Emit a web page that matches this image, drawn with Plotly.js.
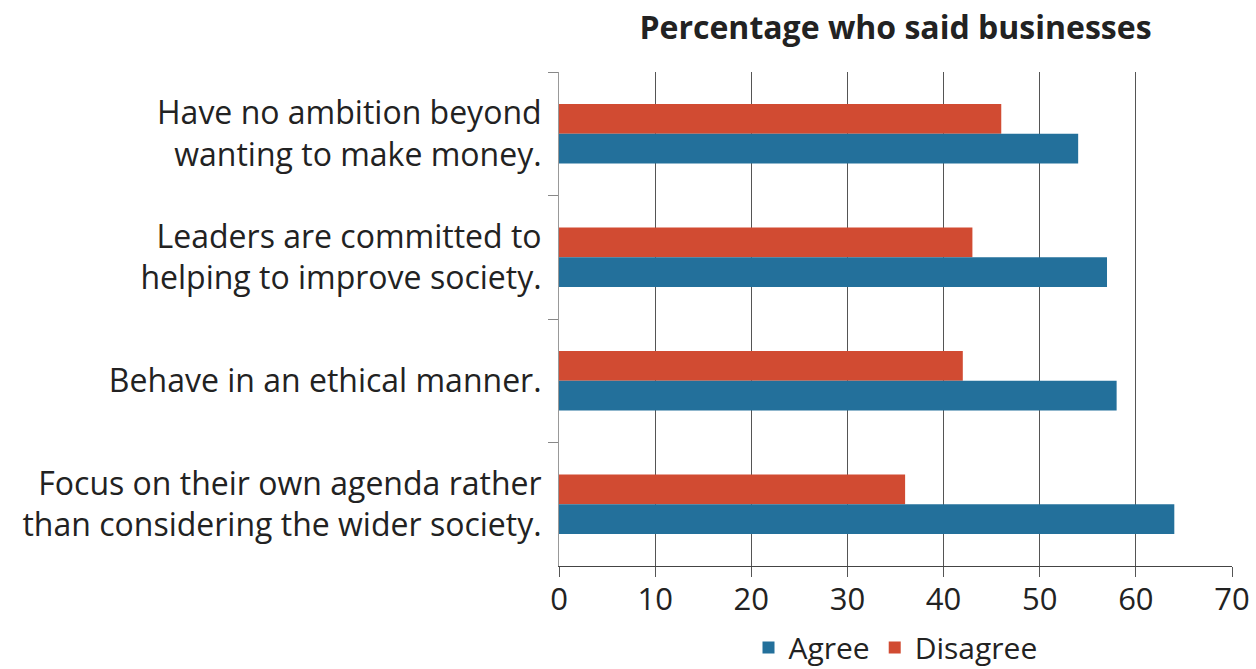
<!DOCTYPE html>
<html>
<head>
<meta charset="utf-8">
<script src="https://cdn.plot.ly/plotly-3.0.1.min.js"></script>
<style>html,body{margin:0;padding:0;background:#fff;}#chart{width:1256px;height:669px;}</style>
</head>
<body>
<div id="chart"></div>
<script>
const categories = [
  "Have no ambition beyond<br>wanting to make money.",
  "Leaders are committed to<br>helping to improve society.",
  "Behave in an ethical manner.",
  "Focus on their own agenda rather<br>than considering the wider society."
];
const agree = [54, 57, 58, 64];
const disagree = [46, 43, 42, 36];
const xTicks = [0, 10, 20, 30, 40, 50, 60, 70];

const FONT = "Open Sans, Noto Sans, sans-serif";
const traces = [
  {type: "bar", orientation: "h", name: "Disagree", y: categories, x: disagree,
   marker: {color: "#D14B32"}, legendrank: 2, hoverinfo: "x+name"},
  {type: "bar", orientation: "h", name: "Agree", y: categories, x: agree,
   marker: {color: "#23709B"}, legendrank: 1, hoverinfo: "x+name"}
];
const layout = {
  width: 1256, height: 669,
  margin: {l: 559, r: 24, t: 72, b: 103, autoexpand: false},
  paper_bgcolor: "#fff", plot_bgcolor: "#fff",
  font: {family: FONT, size: 32, color: "#222"},
  title: {text: "<b>Percentage who said businesses</b>", x: 0.5, xref: "paper", xanchor: "center",
          y: 0.958, yref: "container", yanchor: "middle", font: {family: FONT, size: 32, color: "#222"}},
  barmode: "group", bargap: 0.52, bargroupgap: 0,
  xaxis: {range: [0, 70], tickvals: xTicks, ticktext: xTicks.map(String),
          showgrid: true, gridcolor: "#555", gridwidth: 1,
          showline: true, linecolor: "#444", linewidth: 1,
          ticks: "outside", ticklen: 10, tickcolor: "#555", zeroline: false,
          ticklabelstandoff: -4,
          tickfont: {size: 31, color: "#222"}, fixedrange: true, automargin: false},
  yaxis: {autorange: "reversed", tickson: "boundaries", ticks: "outside", ticklen: 10,
          tickcolor: "#888", showline: true, linecolor: "#999", linewidth: 1,
          ticklabelstandoff: 10, automargin: false,
          showgrid: false, tickfont: {size: 32, color: "#222"}, fixedrange: true},
  legend: {orientation: "h", x: 0.5, xanchor: "center", y: 0.032, yref: "container", yanchor: "middle",
           font: {size: 30, color: "#222"}, itemwidth: 30},
  showlegend: true
};
Plotly.newPlot("chart", traces, layout, {displayModeBar: false, staticPlot: true});
</script>
</body>
</html>
